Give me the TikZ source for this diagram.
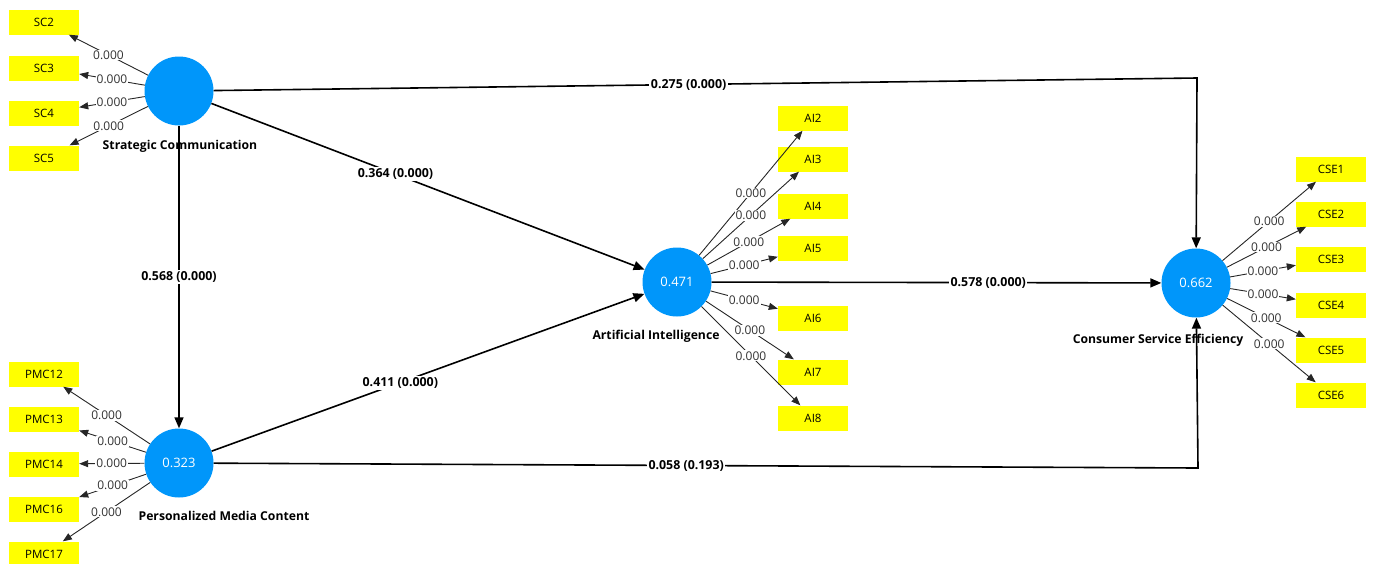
\documentclass[tikz,border=0pt]{standalone}
\usepackage{fontspec}
\setmainfont{Open Sans}
\usetikzlibrary{arrows.meta}
\definecolor{lvblue}{RGB}{0,150,250}
\definecolor{indyellow}{RGB}{255,255,0}
\begin{document}
\begin{tikzpicture}[x=1pt,y=-1pt,
 lv/.style={circle,fill=lvblue,minimum size=69pt,inner sep=0pt,text=white,font=\fontsize{13}{14}\selectfont},
 ind/.style={rectangle,fill=indyellow,minimum width=70pt,minimum height=25pt,inner sep=0pt,font=\fontsize{11.5}{12}\selectfont},
 lvname/.style={font=\bfseries\fontsize{12.2}{13}\selectfont},
 loadarrow/.style={draw=black!85,line width=0.9pt,-{Triangle[length=9pt,width=7pt]}},
 loadlbl/.style={fill=white,inner sep=1pt,font=\fontsize{12}{13}\selectfont,text=black!80},
 structarrow/.style={draw=black,line width=1.6pt,-{Triangle[length=11pt,width=9pt]}},
 structlbl/.style={fill=white,inner sep=1.5pt,font=\bfseries\fontsize{12.4}{13}\selectfont},
]
\useasboundingbox (0,0) rectangle (1375,563);
% latent variables
\node[lv] (sc) at (179,91) {};
\node[lv] (pmc) at (179,463) {0.323};
\node[lv] (ai) at (677,282) {0.471};
\node[lv] (cse) at (1196,283) {0.662};
\node[lvname] (scn) at (180,146) {Strategic Communication};
\node[lvname] (pmcn) at (224,516) {Personalized Media Content};
\node[lvname] (ain) at (656,336) {Artificial Intelligence};
\node[lvname] (csen) at (1158,340) {Consumer Service Efficiency};
% indicators SC
\node[ind] (sc2) at (44,22) {SC2};
\node[ind] (sc3) at (44,68) {SC3};
\node[ind] (sc4) at (44,113) {SC4};
\node[ind] (sc5) at (44,158) {SC5};
% indicators PMC
\node[ind] (pmc12) at (44,374) {PMC12};
\node[ind] (pmc13) at (44,419) {PMC13};
\node[ind] (pmc14) at (44,464) {PMC14};
\node[ind] (pmc16) at (44,509) {PMC16};
\node[ind] (pmc17) at (44,554) {PMC17};
% indicators AI
\node[ind] (ai2) at (813,118) {AI2};
\node[ind] (ai3) at (813,159) {AI3};
\node[ind] (ai4) at (813,206) {AI4};
\node[ind] (ai5) at (813,248) {AI5};
\node[ind] (ai6) at (813,318) {AI6};
\node[ind] (ai7) at (813,372) {AI7};
\node[ind] (ai8) at (813,418) {AI8};
% indicators CSE
\node[ind] (cse1) at (1331,169) {CSE1};
\node[ind] (cse2) at (1331,214) {CSE2};
\node[ind] (cse3) at (1331,259) {CSE3};
\node[ind] (cse4) at (1331,305) {CSE4};
\node[ind] (cse5) at (1331,350) {CSE5};
\node[ind] (cse6) at (1331,395) {CSE6};
% loadings
\foreach \t in {sc2,sc3,sc4,sc5}{\draw[loadarrow] (sc) -- node[loadlbl]{0.000} (\t);}
\foreach \t in {pmc12,pmc13,pmc14,pmc16,pmc17}{\draw[loadarrow] (pmc) -- node[loadlbl]{0.000} (\t);}
\foreach \t in {ai2,ai3,ai4,ai5,ai6,ai7,ai8}{\draw[loadarrow] (ai) -- node[loadlbl]{0.000} (\t);}
\foreach \t in {cse1,cse2,cse3,cse4,cse5,cse6}{\draw[loadarrow] (cse) -- node[loadlbl]{0.000} (\t);}
% structural paths
\coordinate (c1) at (1197,78);
\coordinate (c2) at (1198,468);
\draw[structarrow] (sc) -- node[structlbl,pos=0.483]{0.275 (0.000)} (c1) -- (cse);
\draw[structarrow] (sc) -- node[structlbl,pos=0.425]{0.364 (0.000)} (ai);
\draw[structarrow] (sc) -- node[structlbl,pos=0.5]{0.568 (0.000)} (pmc);
\draw[structarrow] (pmc) -- node[structlbl,pos=0.436]{0.411 (0.000)} (ai);
\draw[structarrow] (ai) -- node[structlbl,pos=0.615]{0.578 (0.000)} (cse);
\draw[structarrow] (pmc) -- node[structlbl,pos=0.48]{0.058 (0.193)} (c2) -- (cse);
\end{tikzpicture}
\end{document}
